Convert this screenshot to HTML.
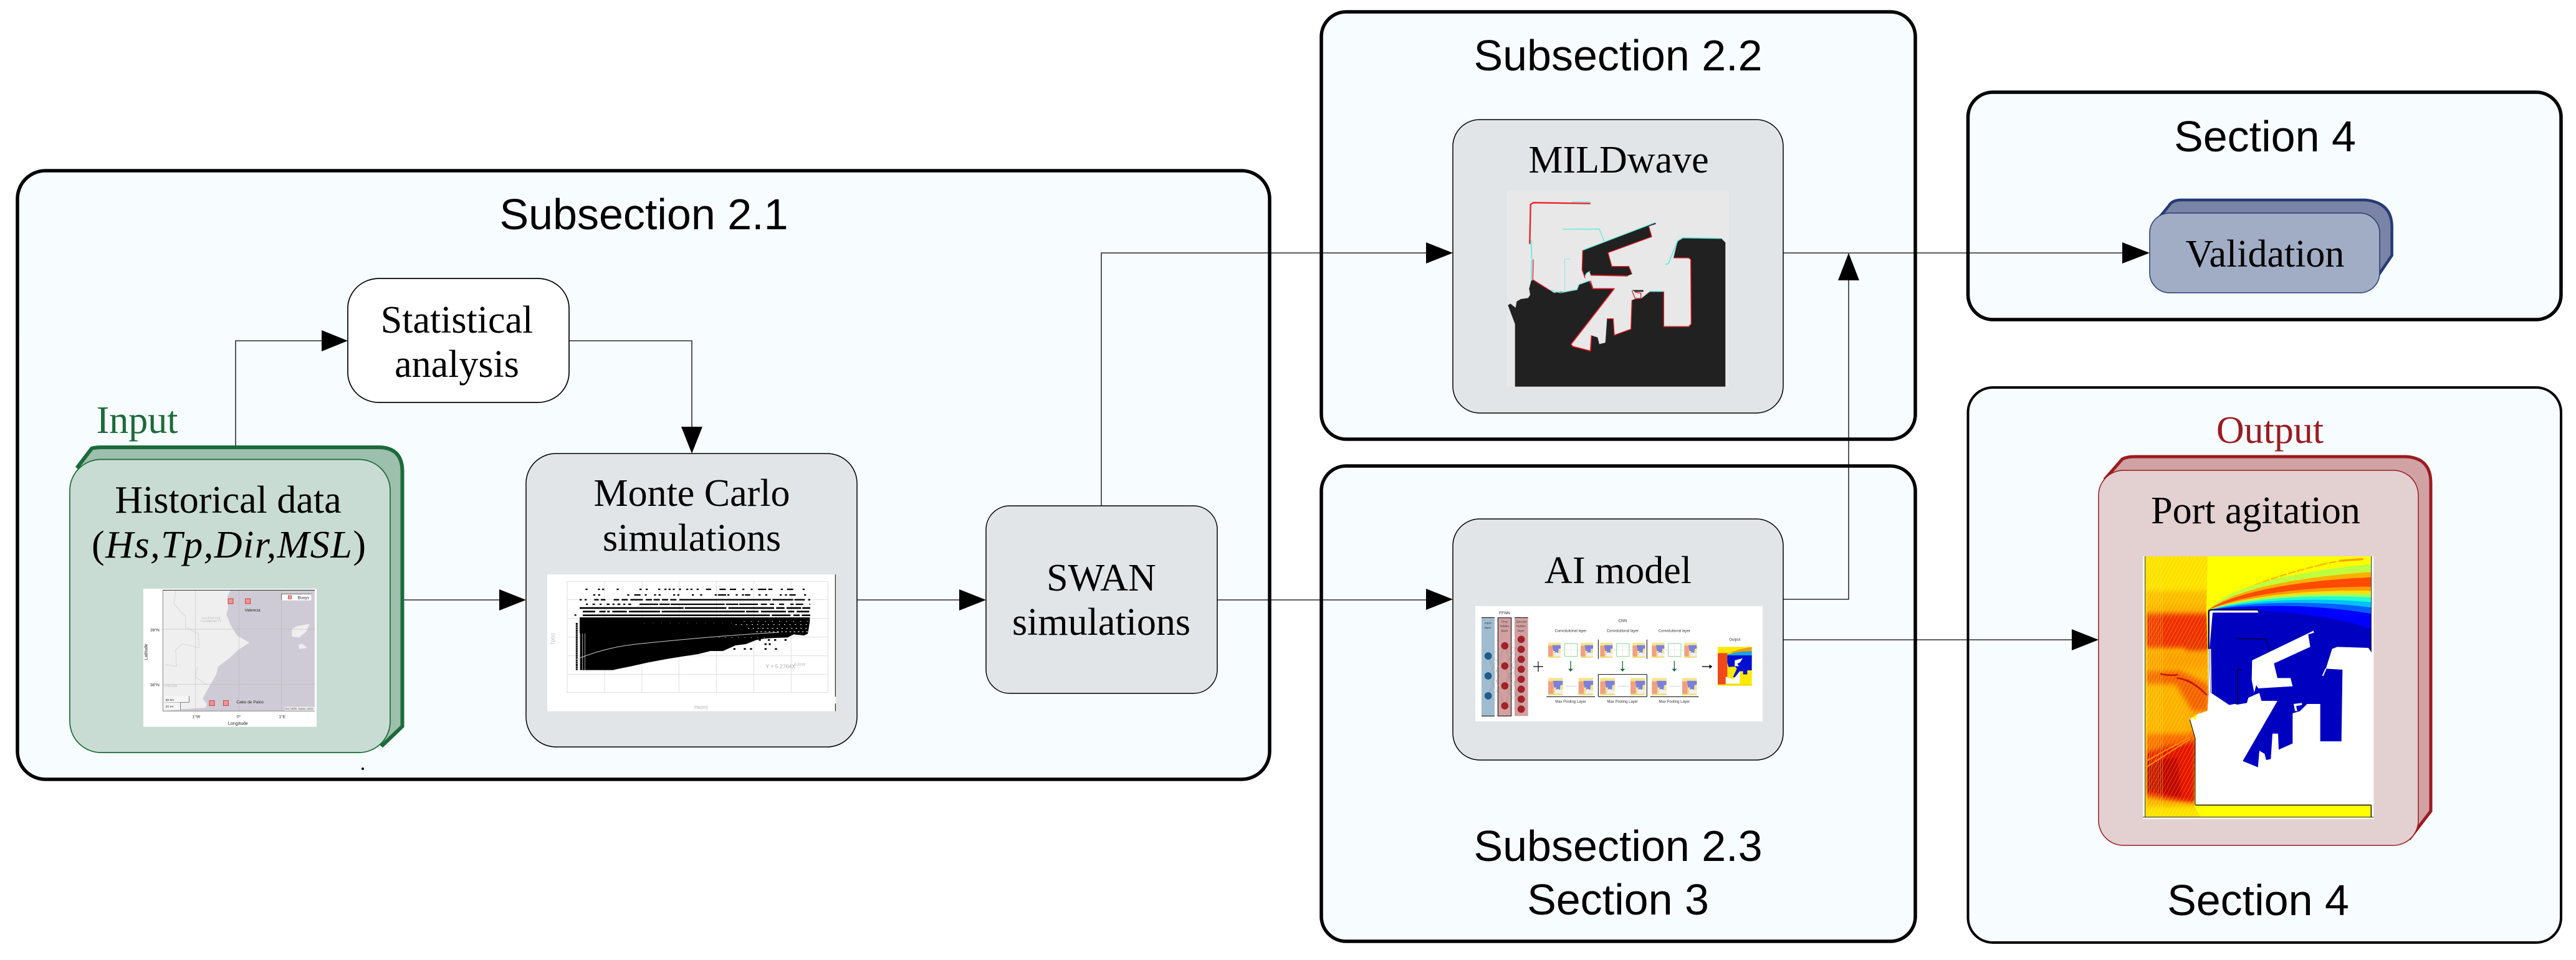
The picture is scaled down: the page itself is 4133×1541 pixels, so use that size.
<!DOCTYPE html>
<html lang="en">
<head>
<meta charset="utf-8">
<title>Port agitation workflow</title>
<style>
html,body{margin:0;padding:0;background:#fff;width:4133px;height:1541px;overflow:hidden}
svg{display:block}
.s{font-family:"Liberation Sans",sans-serif;font-size:70px;text-anchor:middle;fill:#000}
.t{font-family:"Liberation Serif",serif;font-size:62px;text-anchor:middle;fill:#000}
.a{font-family:"Liberation Sans",sans-serif}
</style>
</head>
<body>
<svg xmlns="http://www.w3.org/2000/svg" width="4133" height="1541" viewBox="0 0 4133 1541">
<defs>
<clipPath id="lc"><path d="M35 24H335L330 280 335 470 340 770 285 785 250 810 275 900 272 1225 300 1280H35Z"/></clipPath>
<filter id="bl" x="-10%" y="-10%" width="120%" height="120%"><feGaussianBlur stdDeviation="12"/></filter>
<pattern id="hp" width="16" height="16" patternUnits="userSpaceOnUse" patternTransform="rotate(28)">
<rect width="4" height="16" fill="#ffe000" fill-opacity=".3"/><rect x="9" width="3" height="16" fill="#e85000" fill-opacity=".14"/>
</pattern>
<pattern id="vp" width="9" height="9" patternUnits="userSpaceOnUse">
<rect width="3" height="9" fill="#ffe840" fill-opacity=".38"/>
</pattern>
<g id="mh">
<rect width="60" height="72" fill="#f5e48a"/>
<rect y="14" width="22" height="58" fill="#f0a080"/>
<path d="M20 12H60V28L50 30 48 50H36L30 60 26 58 34 40H24Z" fill="#7b80dc"/>
<path d="M28 72V50L38 46 50 50 60 52V72Z" fill="#f0f0f0"/>
<rect y="66" width="60" height="6" fill="#f0e070"/>
</g>
<g id="cnn">
<use href="#mh" x="432" y="215"/>
<rect x="511" y="219" width="61" height="62" fill="#fff" stroke="#86d894" stroke-width="3"/>
<path d="M541 220V280M512 250H570" stroke="#ccc" stroke-width="1"/>
<use href="#mh" x="588" y="215"/>
<path d="M498 250H506M576 250H584" stroke="#777" stroke-width="1"/>
<path d="M540 303V345" stroke="#1b6b3a" stroke-width="4"/><path d="M528 341H552L540 354Z" fill="#1b6b3a"/>
<use href="#mh" transform="translate(432 385) scale(1.17 1.15)"/>
<use href="#mh" transform="translate(578 385) scale(1.17 1.15)"/>
<path d="M514 424H570" stroke="#777" stroke-width="1"/>
<path d="M424 475H657" stroke="#000" stroke-width="3"/>
<text x="540" y="163" font-size="18" text-anchor="middle" class="a" fill="#333">Convolutional layer</text>
<text x="540" y="504" font-size="18" text-anchor="middle" class="a" fill="#333">Max Pooling Layer</text>
</g>
</defs>

<rect width="4133" height="1541" fill="#fff"/>

<!-- section containers -->
<rect x="28" y="274" width="2009" height="977" rx="45" ry="45" fill="#f7fcff" stroke="#000" stroke-width="5.5"/>
<rect x="2120" y="19" width="953" height="686" rx="40" ry="40" fill="#f7fcff" stroke="#000" stroke-width="5.5"/>
<rect x="2120" y="748" width="953" height="763" rx="40" ry="40" fill="#f7fcff" stroke="#000" stroke-width="5.5"/>
<rect x="3157.5" y="148" width="951.5" height="365" rx="40" ry="40" fill="#f7fcff" stroke="#000" stroke-width="5.5"/>
<rect x="3157.5" y="622" width="951.5" height="891" rx="40" ry="40" fill="#f7fcff" stroke="#000" stroke-width="4"/>

<!-- section titles -->
<text class="s" x="1033" y="368">Subsection 2.1</text>
<text class="s" x="2596" y="113">Subsection 2.2</text>
<text class="s" x="2596" y="1382">Subsection 2.3</text>
<text class="s" x="2596" y="1468">Section 3</text>
<text class="s" x="3634" y="243">Section 4</text>
<text class="s" x="3623" y="1469">Section 4</text>

<!-- connectors -->
<g fill="none" stroke="#000" stroke-width="1.3">
<path d="M378 728V547H520"/>
<path d="M913 547H1110V690"/>
<path d="M635 963H805"/>
<path d="M1375 963H1545"/>
<path d="M1767 812V406H2295"/>
<path d="M1953 963H2295"/>
<path d="M2861 406H3410"/>
<path d="M2861 962H2966V445"/>
<path d="M2861 1027H3330"/>
</g>
<g fill="#000">
<path d="M516 530L558 547 516 564Z"/>
<path d="M1093 685H1127L1110 728Z"/>
<path d="M801 946L844 963 801 980Z"/>
<path d="M1539 946L1582 963 1539 980Z"/>
<path d="M2288 389L2331 406 2288 423Z"/>
<path d="M2288 945L2331 962 2288 979Z"/>
<path d="M2966 406L2983 450H2949Z"/>
<path d="M3405 389L3449 406 3405 423Z"/>
<path d="M3324 1010L3367 1027 3324 1044Z"/>
<circle cx="582" cy="1234" r="2"/>
</g>

<!-- Input -->
<text class="t" x="220" y="695" style="fill:#1b6b3a">Input</text>
<path d="M125 749L147 720Q152 718 165 718H607Q645 718 645.5 756V1166L614 1196Z" fill="#9dbfad" stroke="#1b6b3a" stroke-width="6"/>
<rect x="112" y="737.5" width="514" height="470.5" rx="50" ry="50" fill="#c9dcd3" stroke="#1b6b3a" stroke-width="1.7"/>
<text class="t" x="366" y="823">Historical data</text>
<text class="t" x="367" y="895" textLength="440" lengthAdjust="spacing">(<tspan font-style="italic">Hs,Tp,Dir,MSL</tspan>)</text>

<!-- map -->
<g transform="translate(210 930) scale(.33333)">
<rect x="60" y="45" width="834" height="665" fill="#fff"/>
<rect x="154" y="52" width="731" height="582" fill="#cfcbd6"/>
<path d="M154 52H480L465 80 468 135 460 170 480 220 510 270 570 305 515 340 480 375 420 420 410 460 375 520 345 575 365 600 360 618 240 625 154 634Z" fill="#efefef"/>
<path d="M775 240L800 225 860 215 845 250 810 280 775 275ZM808 315L825 310 848 330 810 335Z" fill="#efefef"/>
<path d="M215 55L208 120 265 180 262 230 325 262 328 330 250 310 215 340 220 420 165 410M320 420L310 470 370 510" fill="none" stroke="#ccc" stroke-width="2"/>
<path d="M154 240H885M154 505H885M310 52V634M520 52V634M725 52V634" stroke="#b5b5b5" stroke-width="1.5"/>
<path d="M154 52H885" stroke="#222" stroke-width="3"/>
<path d="M154 52V634H885" fill="none" stroke="#888" stroke-width="3"/>
<rect x="724" y="70" width="144" height="31" fill="#fff"/><path d="M724 100V70H868" fill="none" stroke="#222" stroke-width="2"/>
<rect x="757" y="78" width="16" height="16" fill="#ff9a9a" stroke="#b03030" stroke-width="2"/>
<g fill="#ff9090" stroke="#b03030" stroke-width="2.5">
<rect x="468" y="93" width="24" height="24"/><rect x="551" y="93" width="24" height="24"/>
<rect x="378" y="584" width="24" height="24"/><rect x="445" y="584" width="24" height="24"/>
</g>
<g class="a" font-size="20" fill="#222">
<text x="803" y="94">Buoys</text>
<text x="548" y="155">Valencia</text>
<text x="508" y="597">Cabo de Palos</text>
<text x="93" y="251">39°N</text><text x="93" y="514">38°N</text>
<text x="295" y="667">1°W</text><text x="510" y="667">0°</text><text x="712" y="667">1°E</text>
<text x="467" y="701" font-size="22">Longitude</text>
<text transform="translate(80 388) rotate(-90)" font-size="22">Latitude</text>
</g>
<text x="340" y="190" class="a" font-size="13" fill="#aaa" textLength="90">VALENCIAN</text>
<text x="336" y="206" class="a" font-size="13" fill="#aaa" textLength="100">COMMUNITY</text>
<text x="160" y="518" class="a" font-size="13" fill="#aaa">A REGION</text>
<rect x="162" y="562" width="118" height="30" fill="#f5f5f5"/><path d="M280 562V592H162" fill="none" stroke="#444" stroke-width="2"/>
<rect x="162" y="592" width="76" height="36" fill="#f5f5f5"/><path d="M238 592V628" stroke="#444" stroke-width="2"/>
<text x="167" y="585" class="a" font-size="15" fill="#222">50 km</text>
<text x="167" y="617" class="a" font-size="15" fill="#222">20 mi</text>
<rect x="740" y="614" width="145" height="18" fill="#eee"/>
<text x="743" y="627" class="a" font-size="11" fill="#333">Esri, HERE, Garmin, USGS</text>
</g>

<!-- Statistical -->
<rect x="558" y="447" width="355" height="199" rx="50" ry="48" fill="#fff" stroke="#000" stroke-width="1.7"/>
<text class="t" x="733" y="534">Statistical</text>
<text class="t" x="733" y="605">analysis</text>

<!-- Monte Carlo -->
<rect x="844" y="728" width="531" height="471" rx="48" ry="48" fill="#e1e5e8" stroke="#000" stroke-width="1.5"/>
<text class="t" x="1110" y="812">Monte Carlo</text>
<text class="t" x="1110" y="884">simulations</text>
<g transform="translate(860 910) scale(.33333)">
<rect x="54" y="36" width="1388" height="659" fill="#fff"/>
<path d="M1441 36V625M1441 658V695" stroke="#000" stroke-width="3"/>
<rect x="150" y="70" width="1255" height="535" fill="none" stroke="#dcdcdc" stroke-width="3"/>
<path d="M150 158H1405M150 248H1405M150 338H1405M150 428H1405M150 517H1405M330 70V605M510 70V605M688 70V605M868 70V605M1048 70V605M1228 70V605" stroke="#e0e0e0" stroke-width="3"/>
<g fill="none" stroke="#000" stroke-width="7">
<path d="M238 108H1310" stroke-dasharray="10 50 10 10 10 60 10 100 10 20 10 50 10 20 10 10 10 10 10 20 10 25 10 10 10 20 10 35 25 40 30 20 30 30 10 30 10 25 40 10 20 40 10 20 30 45 10 20 10 30 20 100 20 15 10 15 30 90 20"/>
<path d="M275 135H1320" stroke-dasharray="10 14 10 130 10 24 30 20 10 35 10 12 10 60 10 10 10 60 10 30 10 60 10 5 40 6 10 30 10 20 10 5 25 40 10 22 10 60 10 15 10 12 30 40 10 20 10 6 30 35 40 14 10 30 10"/>
<path d="M210 158H1320" stroke-dasharray="10 14 10 36 22 10 22 40 26 12 30 12 60 14 30 8 30 10 30 10 30 14 440 8 100 6 50 16 30 10 60 8 40"/>
<path d="M240 180H1320" stroke-dasharray="10 22 12 22 10 24 14 14 10 14 14 14 10 14 14 40 90 6 50 4 260 6 60 4 90 14 30 14 20 24 24 30 16 10 36 30 50"/>
<path d="M210 198H1320" stroke-width="8" stroke-dasharray="500 6 200 10 220 10 40 10 70 6 100"/>
<path d="M225 215H1320" stroke-width="8" stroke-dasharray="60 20 30 8 12 12 70 10 150 8 400 6 60 12 120 10 30 12 60 20 40"/>
<path d="M225 233H1320" stroke-width="8" stroke-dasharray="900 10 90 14 30 10 60"/>
<path d="M196 270V497" stroke-width="9" stroke-dasharray="9 2"/>
<path d="M185 232H194"/>
<path d="M1040 352H1215" stroke-dasharray="10 22 10 34 10 20 10 40" stroke-width="8"/>
<path d="M950 395H1170" stroke-dasharray="10 40 10 20 10 60" stroke-width="8"/>
<path d="M1100 372H1130" stroke-width="8" stroke-dasharray="10 10"/>
</g>
<path d="M210 243H1318V262L1312 300 1308 322 1290 330 1240 325 1210 340 1150 342 1100 345 1060 352 1010 372 960 378 900 405 840 405 780 420 700 432 620 445 540 460 460 478 400 490 370 497H210Z" fill="#000"/>
<g fill="none" stroke="#fff" stroke-width="3">
<path d="M1000 262H1320" stroke-dasharray="4 30"/>
<path d="M960 278H1320" stroke-dasharray="6 20"/>
<path d="M1020 296H1320" stroke-dasharray="7 16"/>
<path d="M1060 312H1320" stroke-dasharray="8 12"/>
<path d="M880 340H1100" stroke-dasharray="3 28"/>
<path d="M520 270H980" stroke-dasharray="2 40" stroke-width="2"/>
</g>
<path d="M212 320V497M224 320V497M236 320V497" stroke="#eee" stroke-width="2"/>
<path d="M192 445C260 420 350 385 500 370S900 330 1170 315" fill="none" stroke="#ccc" stroke-width="3"/>
<text class="a" transform="translate(88 375) rotate(-90)" font-size="24" fill="#b8b8b8">Tp(s)</text>
<text class="a" x="762" y="684" font-size="24" fill="#b0b0b0">Hs(m)</text>
<text class="a" x="1105" y="488" font-size="26" fill="#a8a8a8">Y = 5.2764X</text>
<text class="a" x="1244" y="476" font-size="17" fill="#a8a8a8">0.2019</text>
</g>

<!-- SWAN -->
<rect x="1582" y="812" width="371" height="301" rx="38" ry="38" fill="#e1e5e8" stroke="#000" stroke-width="1.5"/>
<text class="t" x="1767" y="948">SWAN</text>
<text class="t" x="1767" y="1019">simulations</text>

<!-- MILDwave -->
<rect x="2331" y="192" width="530" height="471" rx="43" ry="43" fill="#e1e5e8" stroke="#000" stroke-width="1.5"/>
<text class="t" x="2597" y="277">MILDwave</text>
<g transform="translate(2410 300) scale(.33333)">
<rect x="24" y="17" width="1068" height="945" fill="#e8e8e8"/>
<path d="M62 962V660L28 570 40 562 65 582 70 552 90 540 125 535 135 520 130 490 140 452 150 447 230 497 250 510 280 505 300 505 340 497 362 495 370 470 420 452 437 490H540L332 758 340 768 425 790 430 715 460 725 468 757 497 750 505 635H535L540 714 620 685 625 545 640 540 670 537 710 505H778V674H900L910 660 908 350 898 342H825L845 260 870 245 1055 248 1075 268V962Z" fill="#212121" stroke="#999" stroke-width="1"/>
<path d="M388 305L720 180 735 172 742 178 706 190 720 240 510 317 528 383H610L625 420 605 428H430L420 410 405 415 398 435 385 400Z" fill="#212121"/>
<g fill="none" stroke="#ee1c25" stroke-linejoin="round">
<path d="M425 80L150 76 137 85 133 275" stroke-width="7"/>
<path d="M150 350L148 447 228 497" stroke-width="4"/>
<path d="M388 305L385 400 400 440" stroke-width="4"/>
<path d="M706 190L720 240 510 317 528 383H610L625 420" stroke-width="4"/>
<path d="M425 425L605 429" stroke-width="5"/>
<path d="M425 452L437 490H540L332 758 340 768 425 790 430 715" stroke-width="5"/>
<path d="M505 635H535L540 714 620 685 625 545" stroke-width="4"/>
<path d="M825 342H898L908 350 910 660 898 672H778V503" stroke-width="4"/>
<path d="M625 500L640 537 668 537 668 512 640 507" stroke-width="4"/>
</g>
<path d="M625 497H680V505H640Z" fill="#212121"/>
<g fill="none" stroke="#5ee8e0" stroke-linejoin="round">
<path d="M335 72H425" stroke-width="4"/>
<path d="M140 255L143 350 140 450" stroke-width="5"/>
<path d="M292 204L468 203 492 262" stroke-width="4"/>
<path d="M388 305L735 172" stroke-width="4"/>
<path d="M302 347V500M300 347H330" stroke-width="2"/>
<path d="M785 373L800 370 845 260 870 245 1055 248" stroke-width="5"/>
<path d="M232 497L280 510 360 495 370 470 420 452M400 430Q405 410 425 408M710 503H770" stroke-width="4"/>
</g>
</g>

<!-- AI model -->
<rect x="2331" y="833" width="530" height="387" rx="43" ry="43" fill="#e1e5e8" stroke="#000" stroke-width="1.5"/>
<text class="t" x="2596" y="936">AI model</text>
<g transform="translate(2340 960) scale(.33333)">
<rect x="81" y="39" width="1383" height="555" fill="#fff"/>
<text x="222" y="78" class="a" font-size="20" text-anchor="middle" fill="#222">FFNN</text>
<rect x="111" y="95" width="63" height="473" fill="#a0bcd0"/><path d="M111 94H174M111 568H174" stroke="#000" stroke-width="3"/>
<rect x="190" y="95" width="64" height="473" fill="#d2a0a0" stroke="#000" stroke-width="3"/>
<rect x="270" y="95" width="65" height="473" fill="#d2a0a0"/><path d="M270 94H335" stroke="#000" stroke-width="3"/>
<g class="a" font-size="15" text-anchor="middle" fill="#333">
<text x="142" y="125">Input</text><text x="142" y="147">layer</text>
<text x="222" y="118">First</text><text x="222" y="140">hidden</text><text x="222" y="162">layer</text>
<text x="302" y="118">Second</text><text x="302" y="140">hidden</text><text x="302" y="162">layer</text>
</g>
<g stroke="#777" stroke-width=".8" fill="none">
<path d="M143 279L223 230M143 279L223 327M143 279L223 423M143 279L223 519M143 375L223 230M143 375L223 327M143 375L223 423M143 375L223 519M143 471L223 230M143 471L223 327M143 471L223 423M143 471L223 519"/>
<path d="M223 230L302 199M223 230L302 247M223 230L302 343M223 230L302 439M223 230L302 535M223 327L302 199M223 327L302 295M223 327L302 391M223 327L302 487M223 327L302 535M223 423L302 199M223 423L302 295M223 423L302 391M223 423L302 487M223 423L302 535M223 519L302 247M223 519L302 343M223 519L302 439M223 519L302 535M223 230L302 295M223 327L302 343M223 423L302 247"/>
</g>
<g fill="#1f5c8c" stroke="#143c5c"><circle cx="143" cy="279" r="17"/><circle cx="143" cy="375" r="17"/><circle cx="143" cy="471" r="17"/></g>
<g fill="#a52028" stroke="#6c1418"><circle cx="223" cy="230" r="17"/><circle cx="223" cy="327" r="17"/><circle cx="223" cy="423" r="17"/><circle cx="223" cy="519" r="17"/>
<circle cx="302" cy="199" r="17"/><circle cx="302" cy="247" r="17"/><circle cx="302" cy="295" r="17"/><circle cx="302" cy="343" r="17"/><circle cx="302" cy="391" r="17"/><circle cx="302" cy="439" r="17"/><circle cx="302" cy="487" r="17"/><circle cx="302" cy="535" r="17"/></g>
<path d="M360 330H408M384 305V355" stroke="#000" stroke-width="3.5"/>
<text x="790" y="115" class="a" font-size="19" text-anchor="middle" fill="#222">CNN</text>
<use href="#cnn"/>
<use href="#cnn" x="250"/>
<use href="#cnn" x="499"/>
<path d="M673 200V293M907 200V293M673 475V368H907V475" fill="none" stroke="#000" stroke-width="3"/>
<rect x="676" y="369" width="230" height="6" fill="#fff"/>
<path d="M1172 330H1212" stroke="#000" stroke-width="4"/><path d="M1208 320L1222 330 1208 340Z" fill="#000"/>
<text x="1330" y="205" class="a" font-size="18" text-anchor="middle" fill="#333">Output</text>
<rect x="1248" y="235" width="164" height="187" fill="#ffe800"/>
<path d="M1248 265H1294V380L1285 416H1248Z" fill="#f04818"/>
<path d="M1294 270Q1340 245 1412 236V264H1294Z" fill="#e8a010"/>
<path d="M1294 272Q1350 255 1412 256V290H1294Z" fill="#20a0e0"/>
<path d="M1294 276H1412V348H1390V368H1370V352H1354L1340 386 1322 380 1340 340 1332 330 1300 332 1294 310Z" fill="#0010d0"/>
<path d="M1330 300L1368 290 1355 310 1342 316 1350 328 1330 328Z" fill="#fff"/>
<path d="M1286 412V378L1322 392 1354 352V412Z" fill="#fff"/>
<rect x="1286" y="412" width="126" height="10" fill="#f0e000"/>
</g>

<!-- Validation -->
<path d="M3459.5 355L3480 330Q3485 321 3500 321H3795Q3838 325 3837.6 365V410L3805 458Z" fill="#7984a6" stroke="#263a75" stroke-width="4.5"/>
<rect x="3449" y="342" width="369" height="128" rx="32" ry="32" fill="#a1adc5" stroke="#263a75" stroke-width="1.5"/>
<text class="t" x="3634" y="428">Validation</text>

<!-- Output -->
<text class="t" x="3642" y="711" style="fill:#9b1c20">Output</text>
<path d="M3378 768L3405 737Q3412 733 3425 733H3860Q3900 735 3900 775V1302L3867 1345Z" fill="#d0a2a4" stroke="#9b1c20" stroke-width="5"/>
<rect x="3367" y="755" width="513" height="602" rx="40" ry="40" fill="#e3d0d1" stroke="#9b1c20" stroke-width="1.5"/>
<text class="t" x="3619" y="840">Port agitation</text>
<g transform="translate(3430 885) scale(.33333)">
<rect x="24" y="24" width="1111" height="1266" fill="#fff"/>
<rect x="35" y="24" width="1087" height="1256" fill="#ffff00"/>
<g clip-path="url(#lc)">
<rect x="35" y="24" width="310" height="1256" fill="#ffb000"/>
<g filter="url(#bl)">
<rect x="20" y="0" width="330" height="190" fill="#ffe800"/>
<rect x="20" y="190" width="330" height="70" fill="#ffc000"/>
<rect x="20" y="300" width="330" height="165" fill="#ee2c00"/>
<rect x="230" y="420" width="120" height="60" fill="#e83000"/>
<rect x="20" y="490" width="330" height="70" fill="#ffa000"/>
<path d="M20 575H200L340 640V770H260L180 640H20Z" fill="#f46000"/>
<path d="M20 650H180L250 760 200 840H20Z" fill="#ffb400"/>
<path d="M20 880H240L280 860V910L20 960Z" fill="#ff6800"/>
<path d="M20 965L280 905V1215L20 1175Z" fill="#e41000"/>
<path d="M20 1020L190 990 210 1185 20 1150Z" fill="#bc0000"/>
<rect x="20" y="1228" width="330" height="70" fill="#ffe800"/>
</g>
<rect x="35" y="24" width="310" height="1256" fill="url(#hp)"/>
<rect x="35" y="24" width="85" height="1256" fill="url(#vp)"/>
<rect x="35" y="24" width="9" height="1256" fill="#ffe000" fill-opacity=".75"/>
</g>
<g fill="none" stroke-linecap="round">
<path d="M110 590Q150 600 190 595M190 610Q260 620 330 690M235 620Q280 640 320 680" stroke="#c81000" stroke-width="7"/>
<path d="M40 1040L250 905M40 1010L250 895" stroke="#ff9000" stroke-width="6"/>
<path d="M520 180Q700 105 900 62M880 65Q980 40 1085 38" stroke="#ffb800" stroke-width="7" stroke-dasharray="30 14"/>
<path d="M975 45L1080 38" stroke="#ffa000" stroke-width="10"/>
</g>
<path d="M340 282C421 181 701 101 1122 62V1100H340Z" fill="#c0ff40"/>
<path d="M340 282C443 192 726 126 1122 100V1100H340Z" fill="#ffb000"/>
<path d="M340 282C458 200 742 142 1122 125V1100H340Z" fill="#ff4a00"/>
<path d="M340 282C484 214 771 171 1122 170V1100H340Z" fill="#ff9a00"/>
<path d="M340 282C495 220 784 184 1122 190V1100H340Z" fill="#ffe000"/>
<path d="M340 282C504 224 794 194 1122 205V1100H340Z" fill="#a0ff60"/>
<path d="M340 282C514 230 805 205 1122 222V1100H340Z" fill="#20ffd0"/>
<path d="M340 282C527 237 819 219 1122 245V1100H340Z" fill="#00c0ff"/>
<path d="M340 282C542 244 835 235 1122 270V1100H340Z" fill="#0060ff"/>
<path d="M340 282C559 253 855 255 1122 300V1100H340Z" fill="#0000ff"/>
<path d="M340 282C600 275 900 300 1122 372V1100H340Z" fill="#0000c0"/>
<path d="M278 1222V900L250 810 262 798 278 815 285 785 335 768 340 690 350 680 440 740 465 735 480 738 525 730 532 705 565 690 585 682 595 720H672L505 1010 578 1040 585 960 610 975 618 1005 640 1000 648 878H675L678 955 745 925V780L780 770 815 735H878V915H980L985 570 905 565 935 470 960 460 1110 465 1123 485H1135V1222Z" fill="#fff"/>
<path d="M550 525L830 390 845 382 848 392 820 400 830 460 655 540 672 610H735L745 650 580 660 570 645 560 680 548 620Z" fill="#fff"/>
<path d="M340 470H352L355 680 340 690Z" fill="#fff"/>
<path d="M345 470V290L352 285H580V295H360" fill="#fff"/>
<path d="M750 735L790 730V740L762 745 768 770 756 768Z" fill="#fff"/>
<path d="M905 565L890 600" stroke="#fff" stroke-width="6"/>
<g fill="none" stroke="#000" stroke-linejoin="round">
<path d="M340 470V290L350 281H580V292" stroke-width="4"/>
<path d="M475 421H615L635 480" stroke-width="3"/>
<path d="M500 570H480V735" stroke-width="3.5"/>
<path d="M345 470L350 680" stroke-width="1.5"/>
<path d="M278 1222H1123M1123 1222V1280" stroke-width="4"/>
<path d="M276 900V1222M250 810L276 900" stroke-width="3"/>
<path d="M35 24V1280M24 1280H1135M1124 24V485" stroke-width="2.5"/>
</g>
</g>
</svg>
</body>
</html>
